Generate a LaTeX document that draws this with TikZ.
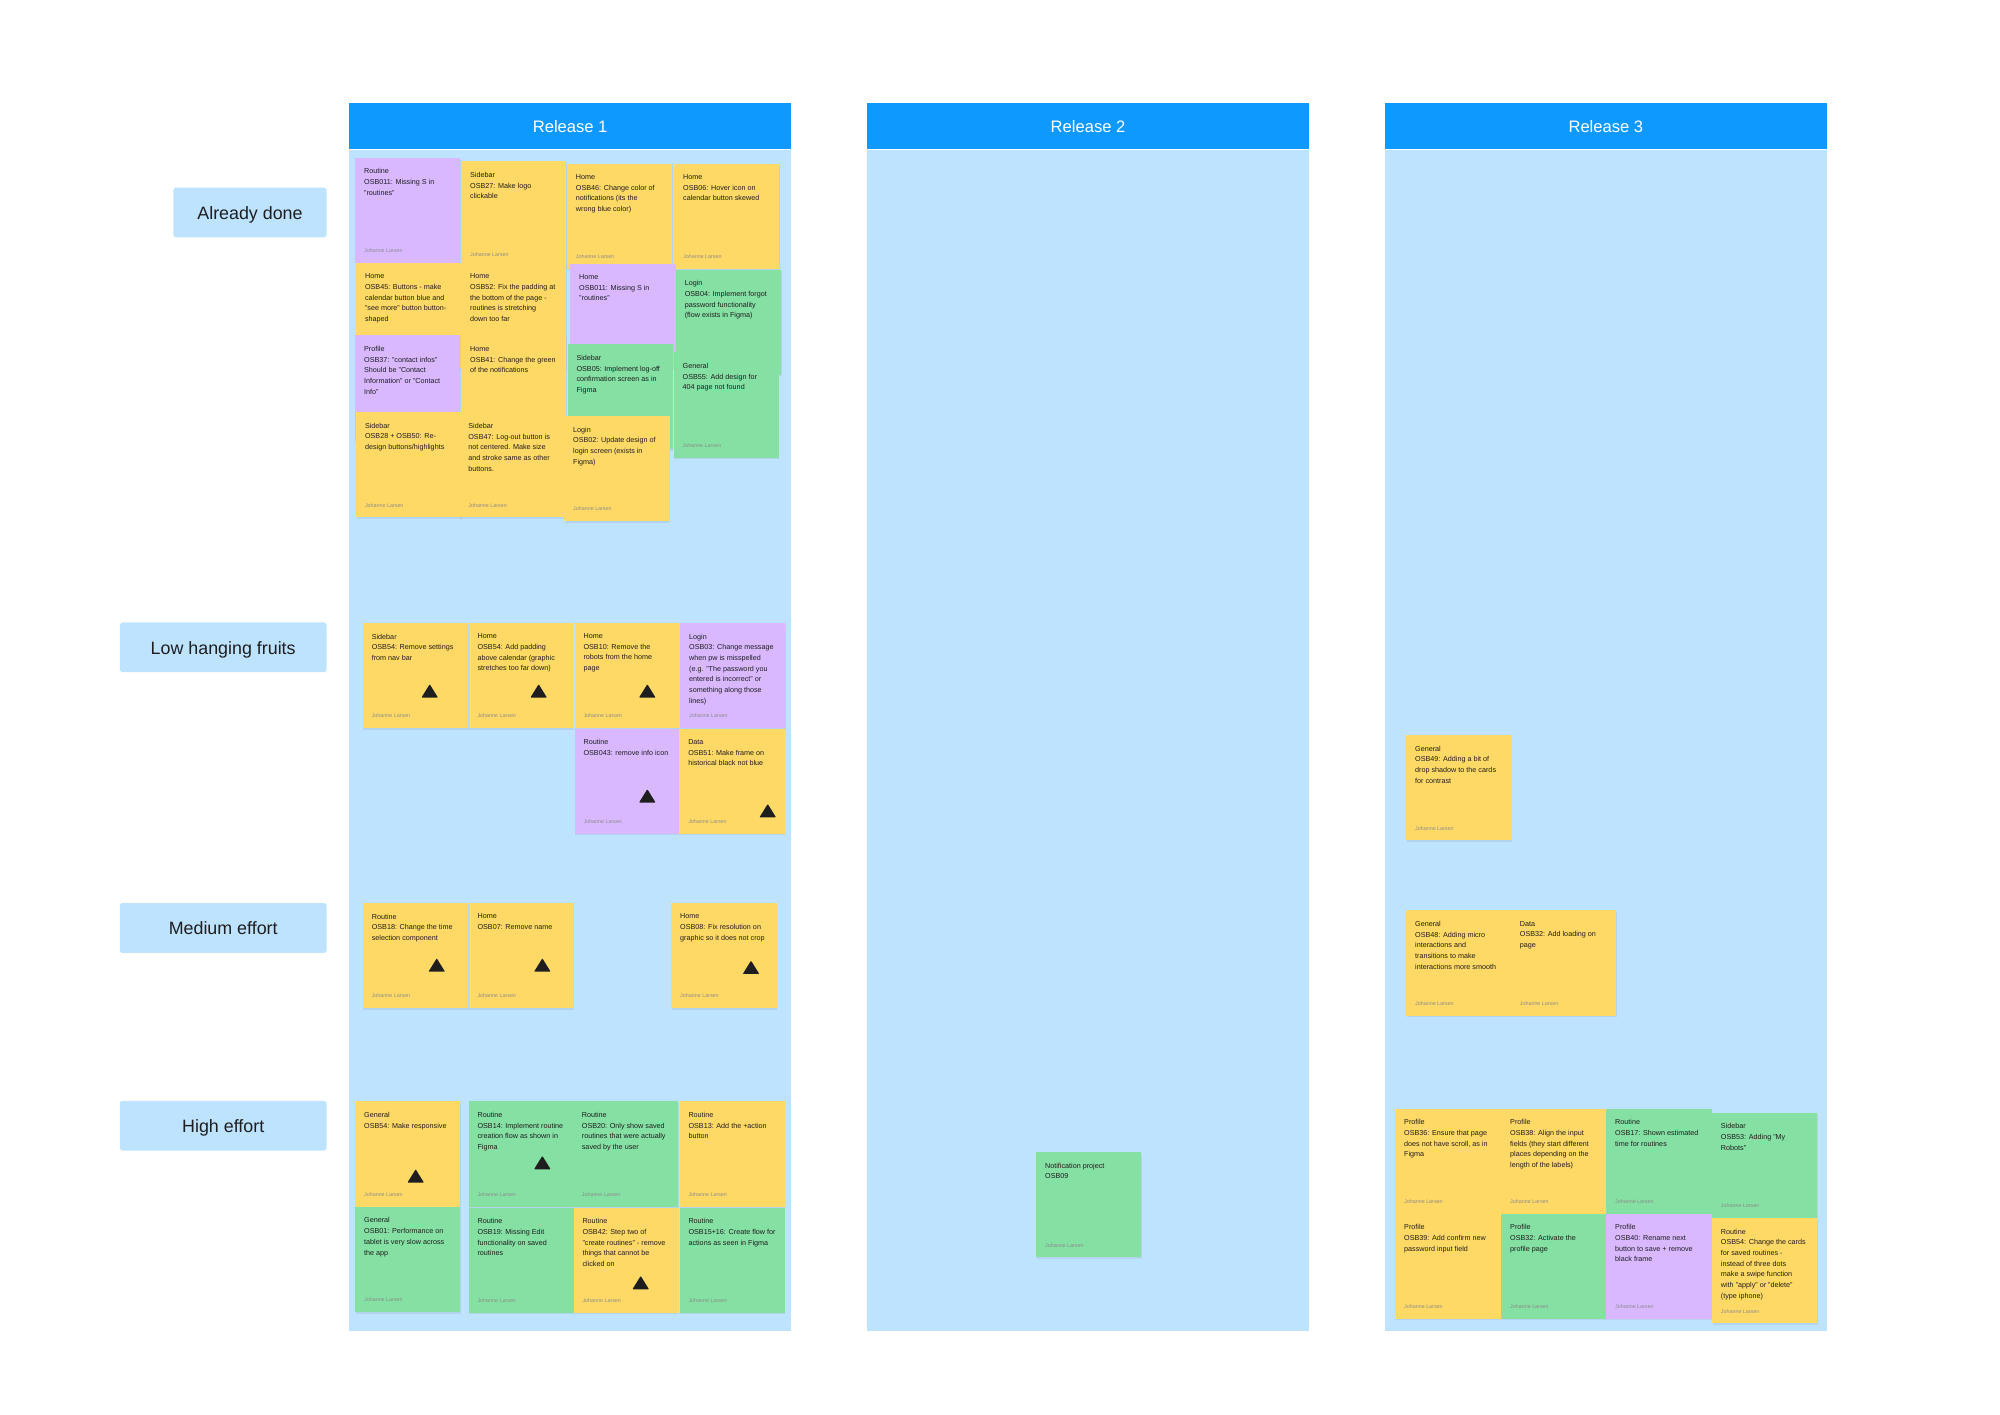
\documentclass[tikz,border=0pt]{standalone}
\usepackage{fontspec}
\setmainfont{Liberation Sans}
\usepackage{xcolor}
\usetikzlibrary{positioning,shadows}
\definecolor{figblue}{HTML}{0D99FF}
\definecolor{figlight}{HTML}{BDE3FF}
\definecolor{stickyel}{HTML}{FFD966}
\definecolor{stickygr}{HTML}{85E0A3}
\definecolor{stickyvi}{HTML}{D9B8FF}
\definecolor{inkdark}{HTML}{1E1E1E}

\begin{document}
\begin{tikzpicture}[x=1pt, y=-1pt,
  relhead/.style={fill=figblue, text=white, minimum width=346pt, minimum height=36pt, inner sep=0pt,
    text height=11pt, text depth=2pt, font=\fontsize{13}{15}\selectfont},
  relbody/.style={fill=figlight, minimum width=346pt, minimum height=926pt, inner sep=0pt, anchor=north},
  rowlab/.style={fill=figlight, rounded corners=1.5pt, minimum height=39pt, inner sep=0pt, text=inkdark,
    text height=13pt, text depth=2pt, font=\fontsize{14}{16}\selectfont},
  sticky/.style={minimum width=82.5pt, minimum height=82.5pt, inner sep=0pt, anchor=north west,
    drop shadow={shadow xshift=0.4pt, shadow yshift=-1.2pt, opacity=0.15}},
  stickytxt/.style={anchor=north west, inner sep=0pt, align=left, text=inkdark, font=\fontsize{5.65}{8.4}\selectfont},
  author/.style={anchor=base west, inner sep=0pt, text=black!45, font=\fontsize{4.2}{5}\selectfont},
  effort/.style={fill=inkdark, rounded corners=0.6pt},
]
\useasboundingbox (0,0) rectangle (1568,1109);

% release columns
\foreach \i/\xc in {1/447, 2/853, 3/1259} {
  \node[relhead] (r\i h) at (\xc,99) {Release \i};
  \node[relbody] (r\i b) at (r\i h.south) {};
}

% row labels
\node[rowlab, minimum width=120pt] (done) at (196,166.5) {Already done};
\node[rowlab, minimum width=162pt] (low) at (175,507.5) {Low hanging fruits};
\node[rowlab, minimum width=162pt] (medium) at (175,727.5) {Medium effort};
\node[rowlab, minimum width=162pt] (high) at (175,882.5) {High effort};

% stickies (top-left corner), drawn in stacking order
\foreach \nm/\xx/\yy/\col/\cat/\txt in {%
  a1/278.3/123.3/stickyvi/{Routine}/{OSB011: Missing S in\\"routines"},
  a2/361.4/126.2/stickyel/{Sidebar}/{OSB27: Make logo\\clickable},
  a3/444.3/128/stickyel/{Home}/{OSB46: Change color of\\notifications (its the\\wrong blue color)},
  a4/528.4/128/stickyel/{Home}/{OSB06: Hover icon on\\calendar button skewed},
  a5/279/206/stickyel/{Home}/{OSB45: Buttons - make\\calendar button blue and\\"see more" button button-\\shaped},
  a6/361.4/206/stickyel/{Home}/{OSB52: Fix the padding at\\the bottom of the page -\\routines is stretching\\down too far},
  a7/446.9/206.4/stickyvi/{Home}/{OSB011: Missing S in\\"routines"},
  a8/529.7/211.2/stickygr/{Login}/{OSB04: Implement forgot\\password functionality\\(flow exists in Figma)},
  a9/278.3/262.7/stickyvi/{Profile}/{OSB37: "contact infos"\\Should be "Contact\\Information" or "Contact\\Info"},
  a10/361.4/263/stickyel/{Home}/{OSB41: Change the green\\of the notifications},
  a11/444.8/269.7/stickygr/{Sidebar}/{OSB05: Implement log-off\\confirmation screen as in\\Figma},
  a12/528/276/stickygr/{General}/{OSB55: Add design for\\404 page not found},
  a13/279/322.8/stickyel/{Sidebar}/{OSB28 + OSB50: Re-\\design buttons/highlights},
  a14/360/323/stickyel/{Sidebar}/{OSB47: Log-out button is\\not centered. Make size\\and stroke same as other\\buttons.},
  a15/442.2/325.9/stickyel/{Login}/{OSB02: Update design of\\login screen (exists in\\Figma)},
  l1/284.3/488.2/stickyel/{Sidebar}/{OSB54: Remove settings\\from nav bar},
  l2/367.2/488.2/stickyel/{Home}/{OSB54: Add padding\\above calendar (graphic\\stretches too far down)},
  l3/450.3/488/stickyel/{Home}/{OSB10: Remove the\\robots from the home\\page},
  l4/533.1/488.2/stickyvi/{Login}/{OSB03: Change message\\when pw is misspelled\\(e.g. "The password you\\entered is incorrect" or\\something along those\\lines)},
  l5/450.3/571/stickyvi/{Routine}/{OSB043: remove info icon},
  l6/532.4/571/stickyel/{Data}/{OSB51: Make frame on\\historical black not blue},
  m1/284.3/707.7/stickyel/{Routine}/{OSB18: Change the time\\selection component},
  m2/367.2/707.7/stickyel/{Home}/{OSB07: Remove name},
  m3/526.1/707.7/stickyel/{Home}/{OSB08: Fix resolution on\\graphic so it does not crop},
  h1/278.3/863.2/stickyel/{General}/{OSB54: Make responsive},
  h2/367.2/863.2/stickygr/{Routine}/{OSB14: Implement routine\\creation flow as shown in\\Figma},
  h3/449/863.2/stickygr/{Routine}/{OSB20: Only show saved\\routines that were actually\\saved by the user},
  h4/532.6/863.2/stickyel/{Routine}/{OSB13: Add the +action\\button},
  h5/278.3/946/stickygr/{General}/{OSB01: Performance on\\tablet is very slow across\\the app},
  h6/367.2/946.5/stickygr/{Routine}/{OSB19: Missing Edit\\functionality on saved\\routines},
  h7/449.5/946.5/stickyel/{Routine}/{OSB42: Step two of\\"create routines" - remove\\things that cannot be\\clicked on},
  h8/532.6/946.5/stickygr/{Routine}/{OSB15+16: Create flow for\\actions as seen in Figma},
  n1/812.2/903/stickygr/{Notification project}/{OSB09},
  g1/1102.3/576.2/stickyel/{General}/{OSB49: Adding a bit of\\drop shadow to the cards\\for contrast},
  g2/1102.3/713.5/stickyel/{General}/{OSB48: Adding micro\\interactions and\\transitions to make\\interactions more smooth},
  g3/1184.4/713.5/stickyel/{Data}/{OSB32: Add loading on\\page},
  p1/1093.7/869/stickyel/{Profile}/{OSB36: Ensure that page\\does not have scroll, as in\\Figma},
  p2/1176.8/869/stickyel/{Profile}/{OSB38: Align the input\\fields (they start different\\places depending on the\\length of the labels)},
  p3/1259.1/869/stickygr/{Routine}/{OSB17: Shown estimated\\time for routines},
  p4/1342/872/stickygr/{Sidebar}/{OSB53: Adding "My\\Robots"},
  p5/1093.7/951.3/stickyel/{Profile}/{OSB39: Add confirm new\\password input field},
  p6/1176.8/951.3/stickygr/{Profile}/{OSB32: Activate the\\profile page},
  p7/1259.1/951.3/stickyvi/{Profile}/{OSB40: Rename next\\button to save + remove\\black frame},
  p8/1342/954.7/stickyel/{Routine}/{OSB54: Change the cards\\for saved routines -\\instead of three dots\\make a swipe function\\with "apply" or "delete"\\(type iphone)}%
} {
  \node[sticky, fill=\col] (\nm) at (\xx,\yy) {};
  \node[stickytxt] (\nm-t) at ([xshift=7pt, yshift=-8.5pt]\nm.north west) {\cat\\\txt};
  \node[author] (\nm-a) at ([xshift=7pt, yshift=8.2pt]\nm.south west) {Johanne Larsen};
}

% effort markers
\foreach \tx/\ty in {336.9/541.7, 422.3/541.7, 507.5/541.7, 507.5/624, 601.9/635.6,
  342.4/756.6, 425.2/756.6, 588.8/758.4, 325.9/922, 425.2/911.5, 502.3/1005.6} {
  \fill[effort] (\tx-6.5,\ty+5.2) -- (\tx+6.5,\ty+5.2) -- (\tx,\ty-5.3) -- cycle;
}
\end{tikzpicture}
\end{document}
